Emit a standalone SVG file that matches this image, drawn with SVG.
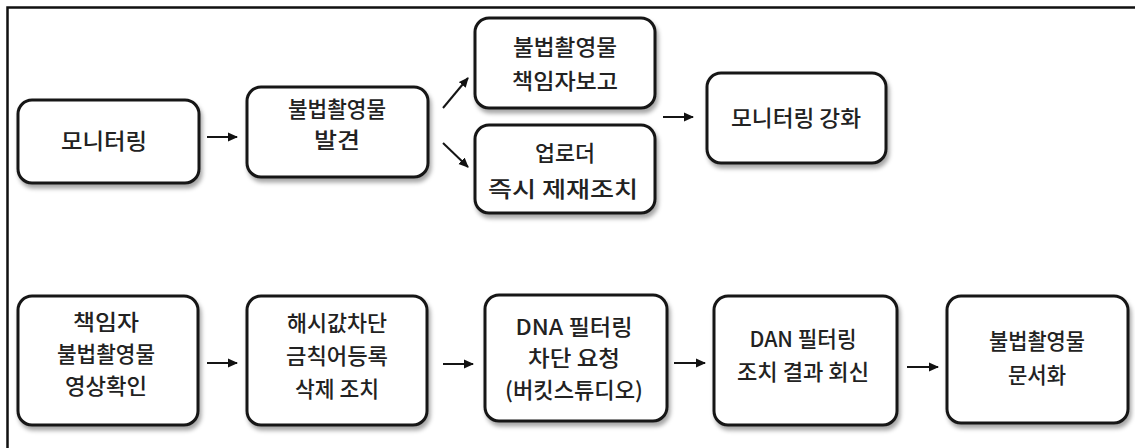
<svg xmlns="http://www.w3.org/2000/svg" width="1135" height="448" viewBox="0 0 1135 448">
<defs>
<filter id="sh" x="-10%" y="-10%" width="130%" height="140%">
<feDropShadow dx="2" dy="4" stdDeviation="2" flood-color="#000" flood-opacity="0.35"/>
</filter>
<marker id="ah" markerWidth="10" markerHeight="10" refX="9" refY="5" orient="auto" markerUnits="userSpaceOnUse">
<path d="M0,0.5 L10,5 L0,9.5 Z" fill="#111"/>
</marker>
</defs>
<style>
.box{fill:#fff;stroke:#151515;stroke-width:3;filter:url(#sh)}
.t{font-family:"Noto Sans CJK KR","Noto Sans",sans-serif;font-size:22px;font-weight:500;fill:#222;text-anchor:middle}
.c{stroke:#151515;stroke-width:2;fill:none;marker-end:url(#ah)}
</style>
<rect width="1135" height="448" fill="#fff"/>
<path d="M7.5,448 V7.5 H1135" fill="none" stroke="#111" stroke-width="2.5"/>

<g id="n1"><rect class="box" x="18" y="100" width="181" height="83" rx="14"/><text class="t" x="104" y="149" textLength="86" lengthAdjust="spacingAndGlyphs">모니터링</text></g>
<g id="n2"><rect class="box" x="247" y="87" width="181" height="90" rx="14"/><text class="t" x="337" y="117" textLength="98" lengthAdjust="spacingAndGlyphs">불법촬영물</text><text class="t" x="337" y="148" textLength="46" lengthAdjust="spacingAndGlyphs">발견</text></g>
<g id="n3"><rect class="box" x="475" y="18" width="180" height="90" rx="14"/><text class="t" x="565" y="55" textLength="104" lengthAdjust="spacingAndGlyphs">불법촬영물</text><text class="t" x="565" y="89" textLength="106" lengthAdjust="spacingAndGlyphs">책임자보고</text></g>
<g id="n4"><rect class="box" x="475" y="125" width="180" height="88" rx="14"/><text class="t" x="565" y="161" textLength="60" lengthAdjust="spacingAndGlyphs">업로더</text><text class="t" x="563" y="197" textLength="150" lengthAdjust="spacingAndGlyphs">즉시 제재조치</text></g>
<g id="n5"><rect class="box" x="707" y="73" width="179" height="90" rx="14"/><text class="t" x="796" y="126" textLength="130" lengthAdjust="spacingAndGlyphs">모니터링 강화</text></g>

<g id="n6"><rect class="box" x="18" y="296" width="180" height="129" rx="14"/><text class="t" x="106" y="330" textLength="66" lengthAdjust="spacingAndGlyphs">책임자</text><text class="t" x="106" y="362" textLength="98" lengthAdjust="spacingAndGlyphs">불법촬영물</text><text class="t" x="106" y="394" textLength="82" lengthAdjust="spacingAndGlyphs">영상확인</text></g>
<g id="n7"><rect class="box" x="247" y="296" width="180" height="129" rx="14"/><text class="t" x="337" y="331" textLength="100" lengthAdjust="spacingAndGlyphs">해시값차단</text><text class="t" x="337" y="364" textLength="102" lengthAdjust="spacingAndGlyphs">금칙어등록</text><text class="t" x="337" y="397" textLength="84" lengthAdjust="spacingAndGlyphs">삭제 조치</text></g>
<g id="n8"><rect class="box" x="485" y="295" width="182" height="126" rx="14"/><text class="t" x="574" y="335" textLength="117" lengthAdjust="spacingAndGlyphs">DNA 필터링</text><text class="t" x="574" y="366" textLength="92" lengthAdjust="spacingAndGlyphs">차단 요청</text><text class="t" x="574" y="398" textLength="138" lengthAdjust="spacingAndGlyphs">(버킷스튜디오)</text></g>
<g id="n9"><rect class="box" x="714" y="296" width="183" height="129" rx="14"/><text class="t" x="803" y="347" textLength="107" lengthAdjust="spacingAndGlyphs">DAN 필터링</text><text class="t" x="803" y="380" textLength="132" lengthAdjust="spacingAndGlyphs">조치 결과 회신</text></g>
<g id="n10"><rect class="box" x="947" y="296" width="181" height="127" rx="14"/><text class="t" x="1037" y="349" textLength="96" lengthAdjust="spacingAndGlyphs">불법촬영물</text><text class="t" x="1037" y="383" textLength="58" lengthAdjust="spacingAndGlyphs">문서화</text></g>

<g id="connectors">
<line class="c" x1="207" y1="137" x2="237" y2="137"/>
<line class="c" x1="443" y1="108" x2="468" y2="78"/>
<line class="c" x1="443" y1="143" x2="468" y2="167"/>
<line class="c" x1="663" y1="117" x2="693" y2="117"/>
<line class="c" x1="207" y1="363" x2="237" y2="363"/>
<line class="c" x1="443" y1="364" x2="473" y2="364"/>
<line class="c" x1="674" y1="363" x2="705" y2="363"/>
<line class="c" x1="907" y1="367" x2="938" y2="367"/>
</g>
</svg>
